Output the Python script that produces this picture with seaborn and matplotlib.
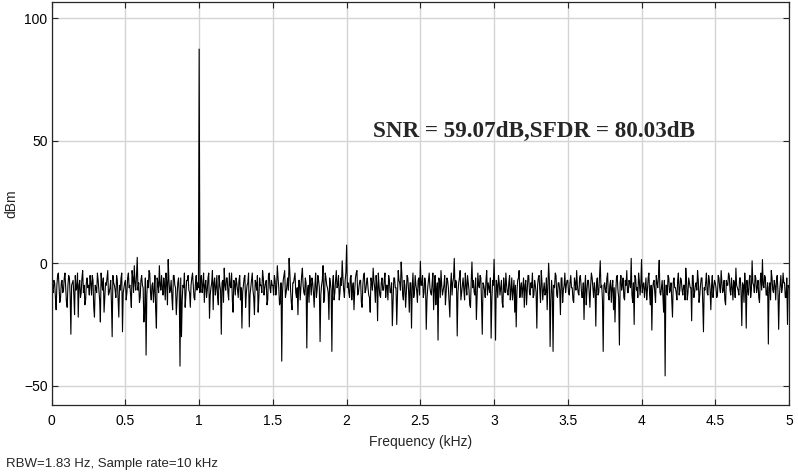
import numpy as np
import pandas as pd
import matplotlib
matplotlib.use('Agg')
import matplotlib.pyplot as plt
import seaborn as sns

# Spectrum level (dBm) on the 10 Hz grid, 0 to 5 kHz
level_dbm = [
    -6, -12, -8, -19, -5, -10, -14, -7, -11, -4, -16, -9, -6, -29, -8, -13, -5, -10, -22, -7, -12, -3, -9, -15, -6,
    -9, -5, -13, -7, -22, -10, -4, -11, -24, -8, -6, -14, -9, -3, -12, -7, -30, -8, -11, -5, -15, -9, -6, -28, -10,
    -7, -12, -4, -9, -18, -6, -1, -11, 2.4, -8, -14, -5, -10, -20, -37.5, -7, -3, -12, -9, -16, -5, -26.5, -8, -1, -11,
    -10, -6, -15, -8, 1.5, -12, -7, -19, -5, -10, -14, -6, -42, -30, -9, -4, -13, -7, -11, -18, -6, -9, -15, -5, -8,
    87.4, -7, -12, -4, -9, -14, -6, -22.5, -10, -3, -8, -13, -5, -17, -9, -29, -7, -2, -11, -6, -15, -9, -4, -20, -8,
    -6, -11, -7, -15, -26.5, -9, -5, -12, -8, -26, -10, -4, -14, -7, -11, -20, -6, -9, -3, -13, -8, -17, -5, -10, -7,
    -9, -5, -13, -1, -10, -16, -40, -7, -3, -12, -6, 2, -11, -19, -8, -4, -14, -21, -7, -10, -2, -12, -6, -34.6, -9,
    -5, -13, -8, -18, -4, -11, -7, -32, -9, -1, -14, -6, -10, -23, -8, -36, -5, -12, -3, -9, -15, -6, 1, -11, -7,
    7.4, -8, -14, -5, -10, -19, -6, -3, -12, -7, -16, -9, -4, -11, -6, -13, -20, -8, -2, -10, -5, -23.5, -9, -14, -6,
    -11, -4, -9, -15, -7, -12, -25.5, -6, -10, -25, -3, -8, 0.5, -13, -7, -18, -5, -11, -8, -26.5, -4, -12, -9, -16, -6,
    0.8, -9, -14, -6, -27, -10, -4, -12, -8, -19, -5, -11, -31.4, -7, -3, -13, -9, -17, -6, -10, -22, -4, -8, 2, -7,
    -29.7, -8, -3, -12, -6, -15, -9, -5, -11, -18, 0.5, -7, -13, -23, -4, -10, -6, -29, -9, -14, -3, -8, -12, -30.6, -7,
    1.6, -31.4, -9, -5, -13, -7, -18, -10, -4, -12, -8, -15, -6, -11, -20, -26, -7, -3, -10, -14, -6, -9, -17, -5, -12,
    -8, -4, -13, -9, -26.5, -6, -11, -3, -15, -8, -12, -19, 0, -34, -7, -36, -10, -5, -14, -8, -21, -6, -11, -4, -9,
    -7, -13, -5, -10, -16, -8, -3, -12, -6, -9, -14, -23, -5, -11, -7, -18, -4, -10, -8, -25.7, -6, -12, 1, -9, -36,
    -8, -12, -4, -15, -7, -10, -19, -24, -6, -11, -33.4, -5, -9, -14, -7, -3, -12, -8, 2, -16, -25, -6, -10, -4, -13,
    1.5, -9, -14, -6, -11, -4, -17, -27.3, -8, -12, -5, -10, 1.2, -13, -7, -20, -46, -9, -5, -12, -8, -22, -6, -10, -15,
    -4, -11, -7, -13, -9, -2, -15, -6, -10, -23.5, -5, -12, -8, -3, -16, -9, -6, -28, -11, -4, -13, -7, -19, -5, -10,
    -8, -14, -5, -10, -3, -12, -7, -17, -9, -4, -11, -6, -15, -8, -2, -10, -13, -6, -25.5, -9, -4, -26.5, -11, -7, -14,
    1, -9, -5, -12, -7, -16, -4, 1.5, -10, -6, -13, -33, -8, -3, -11, -7, -15, -5, -27, -9, -12, -4, -8, -14, -25,
    -10,
]

# Levels of the in-between bins (5 Hz offset), the dense part of the noise floor
level_mid_dbm = [
    -11, -7, -14, -9, -4, -16, -8, -12, -6, -10, -18, -5, -13, -9, -7, -21, -11, -4, -9, -14, -6, -12, -17, -8, -10,
    -13, -8, -5, -18, -9, -12, -7, -15, -4, -11, -20, -8, -6, -13, -10, -16, -5, -9, -14, -7, -22, -11, -4, -12, -8,
    -15, -6, -10, -13, -3, -12, -8, -5, -11, -16, -7, -9, -24, -6, -13, -10, -4, -15, -8, -11, -19, -6, -12, -9, -5,
    -13, -9, -4, -17, -7, -11, -14, -5, -9, -21, -8, -12, -6, -15, -10, -18, -7, -5, -12, -9, -4, -14, -8, -11, -10,
    -12, -5, -9, -16, -7, -11, -4, -13, -8, -19, -6, -10, -14, -5, -11, -8, -16, -9, -6, -12, -4, -10, -15, -7, -13,
    -8, -14, -5, -10, -12, -6, -18, -9, -4, -13, -7, -11, -21, -8, -5, -14, -9, -12, -6, -10, -7, -15, -4, -12, -9,
    -13, -7, -10, -6, -17, -8, -12, -5, -14, -9, -11, -4, -16, -8, -6, -12, -10, -7, -15, -5, -9, -13, -8, -11, -16,
    -8, -6, -12, -9, -14, -5, -10, -13, -7, -16, -4, -9, -12, -6, -11, -8, -15, -7, -10, -5, -12, -9, -6, -14, -4,
    -10, -12, -6, -15, -8, -11, -4, -13, -9, -7, -18, -5, -12, -8, -10, -14, -6, -11, -7, -16, -9, -4, -13, -8, -11,
    -7, -14, -9, -5, -12, -8, -16, -6, -10, -13, -7, -11, -5, -15, -9, -12, -6, -20, -8, -10, -14, -5, -11, -7, -13,
    -9, -5, -12, -8, -15, -7, -10, -13, -4, -11, -17, -8, -6, -14, -9, -11, -5, -12, -7, -16, -9, -13, -6, -10, -8,
    -12, -6, -15, -9, -11, -4, -13, -8, -17, -7, -10, -12, -6, -14, -9, -5, -16, -8, -11, -7, -13, -10, -6, -15, -9,
    -11, -7, -14, -8, -10, -16, -6, -12, -9, -13, -5, -11, -15, -7, -9, -12, -6, -14, -8, -10, -18, -7, -11, -5, -13,
    -10, -14, -7, -12, -9, -5, -16, -8, -11, -13, -6, -10, -7, -15, -12, -9, -4, -13, -8, -11, -6, -16, -9, -12, -7,
    -12, -8, -10, -15, -6, -11, -9, -13, -5, -14, -8, -10, -17, -7, -12, -9, -6, -14, -11, -8, -13, -5, -10, -15, -9,
    -11, -6, -13, -9, -16, -7, -10, -12, -5, -14, -8, -11, -6, -15, -9, -12, -7, -10, -13, -8, -5, -11, -14, -7, -9,
    -12, -8, -10, -15, -6, -13, -9, -11, -7, -16, -8, -5, -12, -10, -14, -7, -9, -13, -6, -11, -15, -8, -10, -12, -7,
    -13, -6, -11, -9, -15, -7, -12, -8, -10, -5, -14, -9, -11, -7, -13, -6, -16, -10, -8, -12, -5, -11, -9, -14, -7,
    -10, -13, -6, -12, -8, -11, -15, -7, -9, -5, -13, -10, -7, -14, -9, -11, -6, -12, -8, -16, -10, -7, -13, -5, -11,
    -8, -12, -6, -10, -14, -7, -11, -9, -5, -13, -8, -10, -15, -6, -12, -9, -7, -11, -13, -5, -10, -8, -14, -6, -9,
]
bin_khz = 0.01
freq_khz = np.arange(len(level_dbm)) * bin_khz
freq_mid_khz = np.arange(len(level_mid_dbm)) * bin_khz + bin_khz / 2

x_ticks = [0, 0.5, 1, 1.5, 2, 2.5, 3, 3.5, 4, 4.5, 5]
x_tick_labels = ['0', '0.5', '1', '1.5', '2', '2.5', '3', '3.5', '4', '4.5', '5']
y_ticks = [-50, 0, 50, 100]

spectrum = pd.concat([
    pd.DataFrame({'freq': freq_khz, 'dbm': level_dbm}),
    pd.DataFrame({'freq': freq_mid_khz, 'dbm': level_mid_dbm}),
]).sort_values('freq')

sns.set_theme(style='ticks')
plt.rcParams['font.family'] = ['Liberation Sans', 'DejaVu Sans']

fig = plt.figure(figsize=(7.98, 4.72), dpi=100)
ax = fig.add_axes([0.0648, 0.1413, 0.9239, 0.8538])

ax.grid(True, color='#d4d4d4', linewidth=1.0)
ax.set_axisbelow(True)
sns.lineplot(data=spectrum, x='freq', y='dbm', color='black', linewidth=0.8, ax=ax)

ax.set_xlim(0, 5)
ax.set_ylim(-58, 106.5)
ax.set_xticks(x_ticks)
ax.set_xticklabels(x_tick_labels)
ax.set_yticks(y_ticks)
ax.tick_params(direction='in', top=True, right=True, length=4, width=0.8,
               labelsize=10, colors='#262626', labelcolor='black')
ax.tick_params(axis='x', pad=6)
ax.tick_params(axis='y', pad=3)
for s in ax.spines.values():
    s.set_color('#262626')
    s.set_linewidth(0.9)

ax.set_xlabel('Frequency (kHz)', fontsize=10, labelpad=5)
ax.set_ylabel('dBm', fontsize=10, labelpad=4)

ax.text(2.177, 51.6, 'SNR = 59.07dB,SFDR = 80.03dB', family=['Liberation Serif', 'DejaVu Serif'],
        fontweight='bold', fontsize=16.7, ha='left', va='baseline')

fig.text(6 / 798, 1 - 467.3 / 472, 'RBW=1.83 Hz, Sample rate=10 kHz', fontsize=9.5,
         ha='left', va='baseline')

fig.savefig('out.png', dpi=100)
